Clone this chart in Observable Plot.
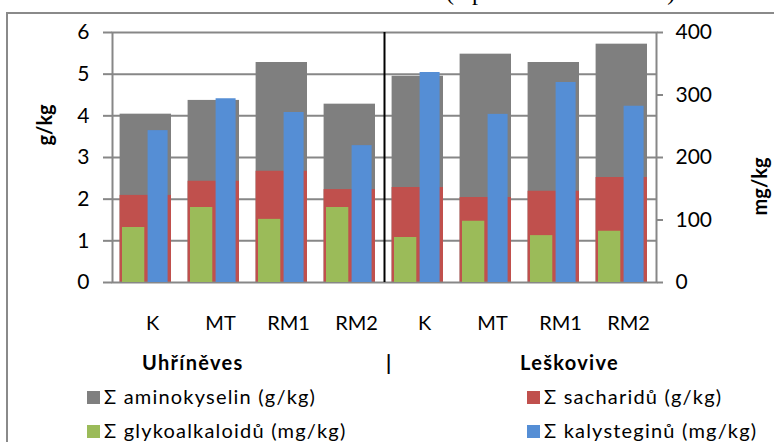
<!DOCTYPE html>
<html>
<head>
<meta charset="utf-8">
<script src="https://cdn.jsdelivr.net/npm/d3@7"></script>
<script src="https://cdn.jsdelivr.net/npm/@observablehq/plot@0.6"></script>
<style>
  html, body { margin: 0; padding: 0; background: #fff; }
  body { width: 774px; height: 442px; overflow: hidden; position: relative; font-family: Lato, "Open Sans", sans-serif; }
  #frame { position: absolute; left: 6px; top: 12px; width: 900px; height: 600px; border: 2px solid #8a8a8a; box-sizing: border-box; }
  #title { position: absolute; left: 446px; top: -20px; line-height: 24px; font-family: "Liberation Serif", "DejaVu Serif", serif; font-size: 24px; white-space: nowrap; color: #000; }
  .layer { position: absolute; left: 0; top: 0; }
  .lbl { position: absolute; white-space: nowrap; color: #000; }
  .site { font-weight: bold; font-size: 20px; letter-spacing: 1.3px; }
  .leg { font-size: 20px; letter-spacing: 1.2px; }
  .sw { position: absolute; width: 13px; height: 13px; }
</style>
</head>
<body>
<div id="title">(v průměru 2010–2012)</div>
<div id="frame"></div>
<div id="chart"></div>
<script>
// ---- data ----
const sites = ["Uhříněves", "Leškovive"];
const treatments = ["K", "MT", "RM1", "RM2", "K", "MT", "RM1", "RM2"];
const keys = ["U-K", "U-MT", "U-RM1", "U-RM2", "L-K", "L-MT", "L-RM1", "L-RM2"];
const aminokyseliny = [4.04, 4.37, 5.28, 4.28, 4.95, 5.48, 5.28, 5.72];   // g/kg
const sacharidy     = [2.09, 2.43, 2.67, 2.23, 2.28, 2.04, 2.19, 2.52];   // g/kg
const glykoalkaloidy = [88, 120, 101, 120, 72, 98, 75, 82];               // mg/kg
const kalysteginy    = [243, 294, 272, 219, 336, 269, 320, 282];          // mg/kg
const leftTicks = [0, 1, 2, 3, 4, 5, 6];
const rightTicks = [0, 100, 200, 300, 400];
const legendItems = [
  {label: "Σ aminokyselin (g/kg)", color: "#7f7f7f"},
  {label: "Σ sacharidů (g/kg)", color: "#c0504d"},
  {label: "Σ glykoalkaloidů (mg/kg)", color: "#9bbb59"},
  {label: "Σ kalysteginů (mg/kg)", color: "#558ed5"}
];

const rows = keys.map((k, i) => ({
  key: k, treatment: treatments[i],
  amino: aminokyseliny[i], sach: sacharidy[i],
  glyko: glykoalkaloidy[i], kaly: kalysteginy[i]
}));

// ---- layout ----
const W = 774, H = 345, ML = 112, MR = 118, MT = 32, MB = 63;
const bw = (W - ML - MR) / keys.length;
const grid = "#878787";
const font = "Lato, 'Open Sans', sans-serif";

const p1 = Plot.plot({
  width: W, height: H, marginLeft: ML, marginRight: MR, marginTop: MT, marginBottom: MB,
  style: {fontFamily: font, fontSize: "21px", background: "transparent", overflow: "visible"},
  x: {domain: keys, padding: 0},
  y: {domain: [0, 6]},
  marks: [
    Plot.ruleY([1, 2, 3, 4, 5], {stroke: grid, strokeWidth: 2}),
    Plot.barY(rows, {x: "key", y: "amino", fill: "#7f7f7f", insetLeft: 7.6, insetRight: 9}),
    Plot.barY(rows, {x: "key", y: "sach", fill: "#c0504d", insetLeft: 7.6, insetRight: 9}),
    Plot.frame({stroke: grid, strokeWidth: 2}),
    Plot.axisY({anchor: "left", ticks: leftTicks, tickSize: 9, tickPadding: 14, stroke: grid, strokeWidth: 2,
                fill: "#000", fontSize: 21, label: null, tickFormat: d => String(d)}),
    Plot.axisX({anchor: "bottom", tickSize: 0, tickPadding: 33, dx: 6, fill: "#000", fontSize: 20, label: null,
                tickFormat: d => treatments[keys.indexOf(d)]}),
    Plot.ruleX([keys[3]], {x: d => d, dx: bw / 2, stroke: "#000", strokeWidth: 2}),
    Plot.text(["g/kg"], {text: d => d, frameAnchor: "left", dx: -67, dy: -12, rotate: -90,
                         fontWeight: "bold", fontSize: 20, fill: "#000"})
  ]
});

const p2 = Plot.plot({
  width: W, height: H, marginLeft: ML, marginRight: MR, marginTop: MT, marginBottom: MB,
  style: {fontFamily: font, fontSize: "21px", background: "transparent", overflow: "visible"},
  x: {domain: keys, padding: 0, axis: null},
  y: {domain: [0, 400]},
  marks: [
    Plot.barY(rows, {x: "key", y: "glyko", fill: "#9bbb59", insetLeft: 10, insetRight: 35.7}),
    Plot.barY(rows, {x: "key", y: "kaly", fill: "#558ed5", insetLeft: 35.6, insetRight: 12.4}),
    Plot.axisY({anchor: "right", ticks: rightTicks, tickSize: 6, tickPadding: 13, stroke: grid, strokeWidth: 2,
                fill: "#000", fontSize: 21, label: null, tickFormat: d => String(d)}),
    Plot.text(["mg/kg"], {text: d => d, frameAnchor: "right", dx: 104, rotate: -90,
                          fontWeight: "bold", fontSize: 20, fill: "#000"})
  ]
});

const chart = document.getElementById("chart");
p1.classList.add("layer"); p2.classList.add("layer");
chart.appendChild(p1); chart.appendChild(p2);

// ---- site labels & legend (HTML, below the plot area) ----
function addLabel(text, cls, left, top) {
  const d = document.createElement("div");
  d.className = "lbl " + cls; d.textContent = text;
  d.style.left = left + "px"; d.style.top = top + "px";
  document.body.appendChild(d);
}
addLabel(sites[0], "site", 142, 350);
addLabel("|", "site", 386, 350);
addLabel(sites[1], "site", 520, 350);

const legPos = [[87, 391], [527, 391], [87, 425], [527, 425]];
legendItems.forEach((it, i) => {
  const [lx, ly] = legPos[i];
  const sw = document.createElement("div");
  sw.className = "sw"; sw.style.left = lx + "px"; sw.style.top = ly + "px"; sw.style.background = it.color;
  document.body.appendChild(sw);
  addLabel(it.label, "leg", lx + 17, ly - 7);
});
</script>
</body>
</html>
